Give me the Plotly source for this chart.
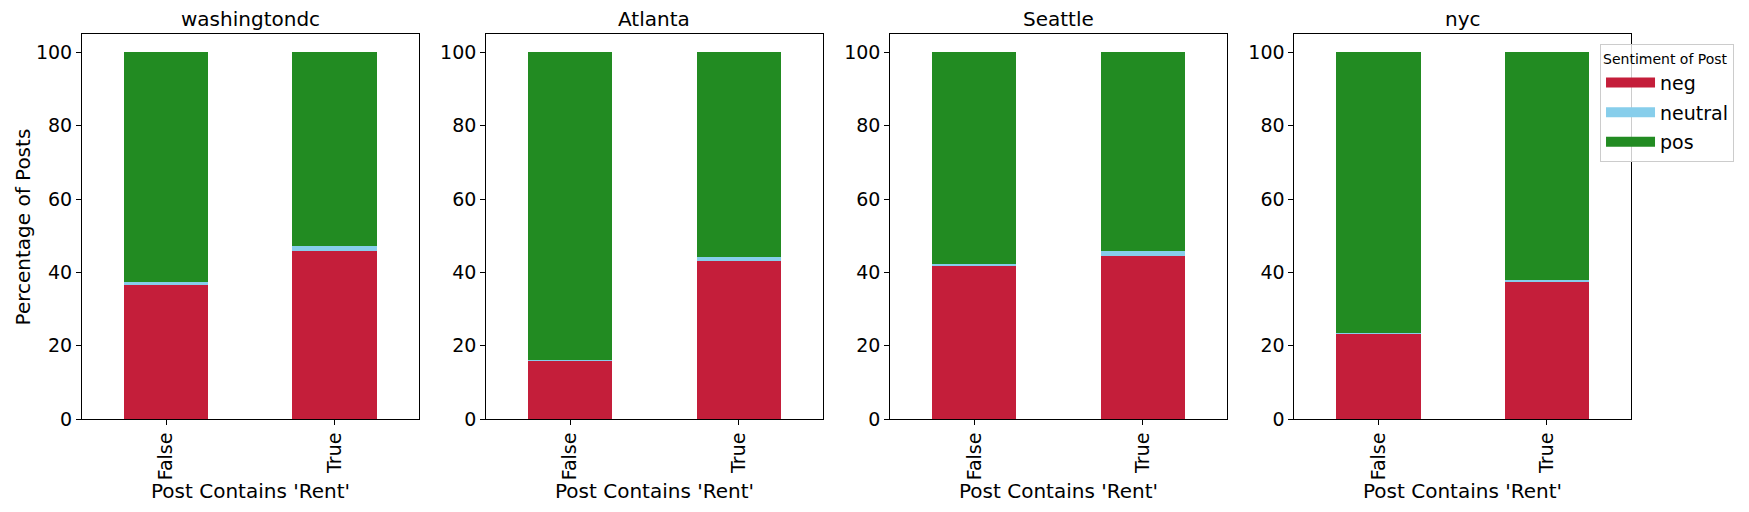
import plotly.graph_objects as go
from plotly.subplots import make_subplots

cities = ["washingtondc", "Atlanta", "Seattle", "nyc"]
categories = ["False", "True"]

neg = {
    "washingtondc": [36.8, 45.8],
    "Atlanta": [15.9, 43.1],
    "Seattle": [41.8, 44.45],
    "nyc": [23.4, 37.45],
}
neutral = {
    "washingtondc": [0.5, 1.4],
    "Atlanta": [0.2, 1.1],
    "Seattle": [0.55, 1.45],
    "nyc": [0.1, 0.45],
}
pos = {
    "washingtondc": [62.7, 52.8],
    "Atlanta": [83.9, 55.8],
    "Seattle": [57.65, 54.1],
    "nyc": [76.5, 62.1],
}
y_ticks = [0, 20, 40, 60, 80, 100]

series = [("neg", neg, "#C41E3A"), ("neutral", neutral, "#87CEEB"), ("pos", pos, "#228B22")]

FONT = "DejaVu Sans"
HSP = 0.0436
fig = make_subplots(rows=1, cols=4, horizontal_spacing=HSP)

for i, city in enumerate(cities):
    for name, data, color in series:
        fig.add_trace(
            go.Bar(
                x=[0, 1], y=data[city], name=name, marker=dict(color=color, line=dict(width=0)),
                width=0.5, showlegend=False, legendgroup=name,
            ),
            row=1, col=i + 1,
        )
    fig.update_xaxes(
        range=[-0.5, 1.5], tickvals=[0, 1], ticktext=categories, tickangle=-90,
        showline=True, linecolor="black", linewidth=1, mirror=True,
        ticks="outside", ticklen=5, tickcolor="black", showgrid=False, zeroline=False,
        tickfont=dict(family=FONT, size=19, color="black"),
        row=1, col=i + 1,
    )
    fig.update_yaxes(
        range=[0, 105], tickvals=y_ticks,
        showline=True, linecolor="black", linewidth=1, mirror=True,
        ticks="outside", ticklen=5, tickcolor="black", showgrid=False, zeroline=False,
        tickfont=dict(family=FONT, size=19, color="black"),
        row=1, col=i + 1,
    )

# legend entries drawn as wide colour patches
for name, _, color in series:
    fig.add_trace(
        go.Scatter(x=[None], y=[None], mode="lines", name=name, legendgroup=name,
                   line=dict(color=color, width=13), showlegend=True),
        row=1, col=4,
    )

annotations = []
dom_w = (1 - 3 * HSP) / 4
for i, city in enumerate(cities):
    xc = i * (dom_w + HSP) + dom_w / 2
    annotations.append(dict(text=city, x=xc, y=1.04, xref="paper", yref="paper",
                            xanchor="center", yanchor="middle", showarrow=False,
                            font=dict(family=FONT, size=20, color="black")))
    annotations.append(dict(text="Post Contains 'Rent'", x=xc, y=-0.188, xref="paper", yref="paper",
                            xanchor="center", yanchor="middle", showarrow=False,
                            font=dict(family=FONT, size=20, color="black")))
annotations.append(dict(text="Percentage of Posts", x=-0.0465, y=0.5, xref="paper", yref="paper",
                        xanchor="left", yanchor="middle", textangle=-90, showarrow=False,
                        borderpad=0,
                        font=dict(family=FONT, size=20, color="black")))

fig.update_layout(
    barmode="stack",
    width=1749, height=512,
    margin=dict(l=74, r=126, t=26, b=101, autoexpand=False),
    plot_bgcolor="white", paper_bgcolor="white",
    annotations=annotations,
    legend=dict(
        x=0.980, y=0.973, xanchor="left", yanchor="top",
        title=dict(text="Sentiment of Post", font=dict(family=FONT, size=14, color="black")),
        font=dict(family=FONT, size=19, color="black"),
        bgcolor="rgba(255,255,255,0.8)", bordercolor="#cccccc", borderwidth=1,
        traceorder="grouped", tracegroupgap=2, itemwidth=49,
    ),
    font=dict(family=FONT, color="black"),
)

fig.write_html("out.html")
